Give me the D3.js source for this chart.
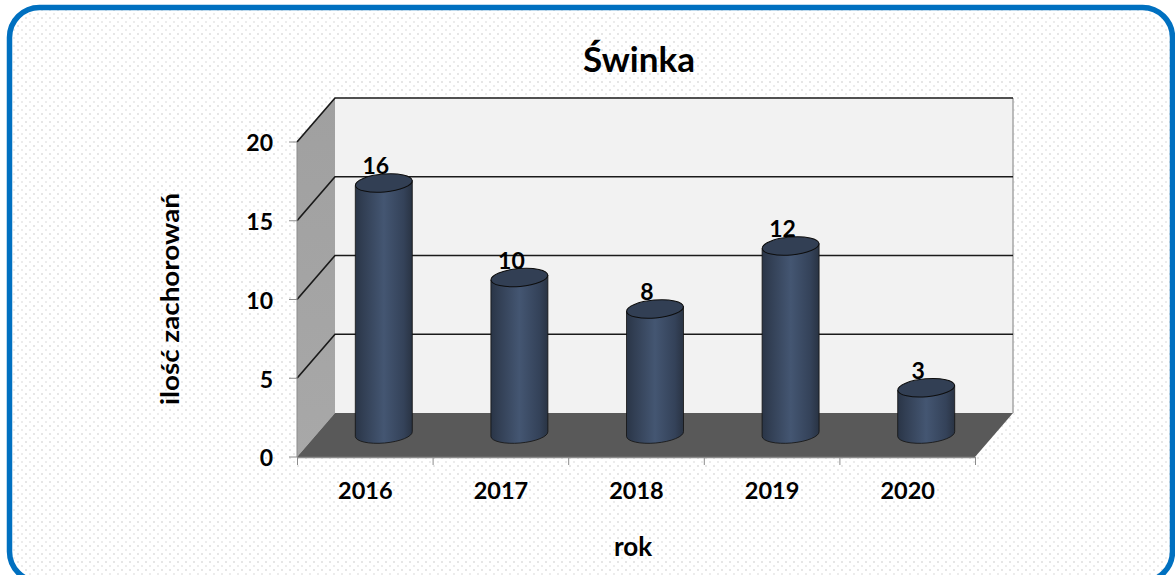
<!DOCTYPE html>
<html><head><meta charset="utf-8">
<script src="https://cdn.jsdelivr.net/npm/d3@7"></script>
<style>html,body{margin:0;padding:0;background:#fff;overflow:hidden}svg{display:block}text{font-family:Lato,sans-serif;fill:#000}</style>
</head><body><svg id="c" width="1175" height="575"></svg>
<script>
const categories = ["2016","2017","2018","2019","2020"];
const values = [16,10,8,12,3];
const yTicks = [0,5,10,15,20];
const titleText = "Świnka", xTitle = "rok", yTitle = "ilość zachorowań";

const svg = d3.select("#c");
const defs = svg.append("defs");
const pat = defs.append("pattern").attr("id","dots").attr("width",8).attr("height",8).attr("patternUnits","userSpaceOnUse");
pat.append("rect").attr("width",8).attr("height",8).attr("fill","#fff");
pat.append("rect").attr("x",1).attr("y",1).attr("width",2).attr("height",2).attr("fill","#e6e6e6");
pat.append("rect").attr("x",5).attr("y",5).attr("width",2).attr("height",2).attr("fill","#ececec");
const grad = defs.append("linearGradient").attr("id","cyl");
[[0,"#2a3547"],[0.14,"#323f54"],[0.5,"#445672"],[0.85,"#344259"],[1,"#293343"]].forEach(([o,c])=>grad.append("stop").attr("offset",o).attr("stop-color",c));
const wallG = defs.append("linearGradient").attr("id","wall").attr("x1",0).attr("x2",0).attr("y1",0).attr("y2",1);
wallG.append("stop").attr("offset",0).attr("stop-color","#a0a0a0");
wallG.append("stop").attr("offset",1).attr("stop-color","#a8a8a8");

svg.append("rect").attr("x",9.5).attr("y",7.5).attr("width",1163).attr("height",574).attr("rx",30).attr("fill","url(#dots)").attr("stroke","#0070c0").attr("stroke-width",5.5);

const pLeft=297,pRight=975,pBottom=457,pTop=142,dx=38,dy=-44;
const x = d3.scaleBand().domain(categories).range([pLeft,pRight]);
const y = d3.scaleLinear().domain([0,20]).range([pBottom,pTop]);

// walls
const poly=(pts,fill)=>svg.append("polygon").attr("points",pts.map(p=>p.join(",")).join(" ")).attr("fill",fill);
poly([[pLeft+dx,y(20)+dy],[pRight+dx,y(20)+dy],[pRight+dx,y(0)+dy],[pLeft+dx,y(0)+dy]],"#f2f2f2");
poly([[pLeft,y(20)],[pLeft+dx,y(20)+dy],[pLeft+dx,y(0)+dy],[pLeft,y(0)]],"url(#wall)");
poly([[pLeft,y(0)],[pLeft+dx,y(0)+dy],[pRight+dx,y(0)+dy],[pRight,y(0)]],"#595959");
svg.append("line").attr("x1",pRight+dx).attr("x2",pRight+dx).attr("y1",y(20)+dy).attr("y2",y(0)+dy).attr("stroke","#a6a6a6").attr("stroke-width",1.5);

// gridlines
const grid = yTicks.filter(v=>v>0);
svg.selectAll(".g").data(grid).join("path").attr("class","g").attr("fill","none").attr("stroke","#1a1a1a").attr("stroke-width",1.7)
  .attr("d",v=>`M${pLeft},${y(v)}L${pLeft+dx},${y(v)+dy}L${pRight+dx},${y(v)+dy}`);

// axes
const axisCol="#8c8c8c";
svg.append("line").attr("x1",pLeft).attr("x2",pLeft).attr("y1",y(20)).attr("y2",y(0)).attr("stroke",axisCol);
svg.append("line").attr("x1",pLeft).attr("x2",pRight).attr("y1",y(0)+.5).attr("y2",y(0)+.5).attr("stroke",axisCol).attr("stroke-width",1.5);
svg.selectAll(".yt").data(yTicks).join("line").attr("class","yt").attr("x1",pLeft-8).attr("x2",pLeft).attr("y1",y).attr("y2",y).attr("stroke",axisCol);
const xEdges = categories.map(c=>x(c)).concat([pRight]);
svg.selectAll(".xt").data(xEdges).join("line").attr("class","xt").attr("x1",d=>d+.5).attr("x2",d=>d+.5).attr("y1",y(0)).attr("y2",y(0)+8).attr("stroke",axisCol);
svg.selectAll(".yl").data(yTicks).join("text").attr("class","yl").attr("x",pLeft-24).attr("y",d=>y(d)+1).attr("dy","0.36em").attr("text-anchor","end").attr("font-size",23).attr("font-weight",700).text(d=>d);
svg.selectAll(".xl").data(categories).join("text").attr("class","xl").attr("x",d=>x(d)+x.bandwidth()/2+.5).attr("y",y(0)+42).attr("text-anchor","middle").attr("font-size",23.5).attr("font-weight",700).text(d=>d);

// cylinders
const rx=28.5, ry=9, tilt=-5, cOff=dx/2, vOff=dy/2;
const cyl = svg.selectAll(".cyl").data(categories.map((c,i)=>({c,v:values[i]}))).join("g").attr("class","cyl")
  .attr("transform",d=>`translate(${x(d.c)+x.bandwidth()/2+cOff},0)`);
cyl.append("path").attr("fill","url(#cyl)").attr("stroke","#111").attr("stroke-width",.8)
  .attr("d",d=>{const t=y(d.v)+vOff,b=y(0)+vOff,o=rx*Math.sin(-tilt*Math.PI/180);
    return `M${-rx},${t+o}L${-rx},${b+o-1}A${rx},${ry} ${tilt} 0 0 ${rx},${b-o-1}L${rx},${t-o}Z`;});
cyl.append("ellipse").attr("rx",rx).attr("ry",ry).attr("fill","#323f54").attr("stroke","#0d0d0d").attr("stroke-width",1)
  .attr("transform",d=>`translate(0,${y(d.v)+vOff}) rotate(${tilt})`);
cyl.append("text").attr("y",d=>y(d.v)+vOff-9).attr("x",-8).attr("text-anchor","middle").attr("font-size",23).attr("font-weight",700).text(d=>d.v);

// titles
svg.append("text").attr("x",639).attr("y",72).attr("text-anchor","middle").attr("font-size",35).attr("font-weight",700).text(titleText);
svg.append("text").attr("x",633).attr("y",556).attr("text-anchor","middle").attr("font-size",26).attr("font-weight",700).text(xTitle);
svg.append("text").attr("transform","translate(179,299) rotate(-90) scale(1.21,1.1)").attr("text-anchor","middle").attr("font-size",23).attr("font-weight",700).text(yTitle);
</script></body></html>
